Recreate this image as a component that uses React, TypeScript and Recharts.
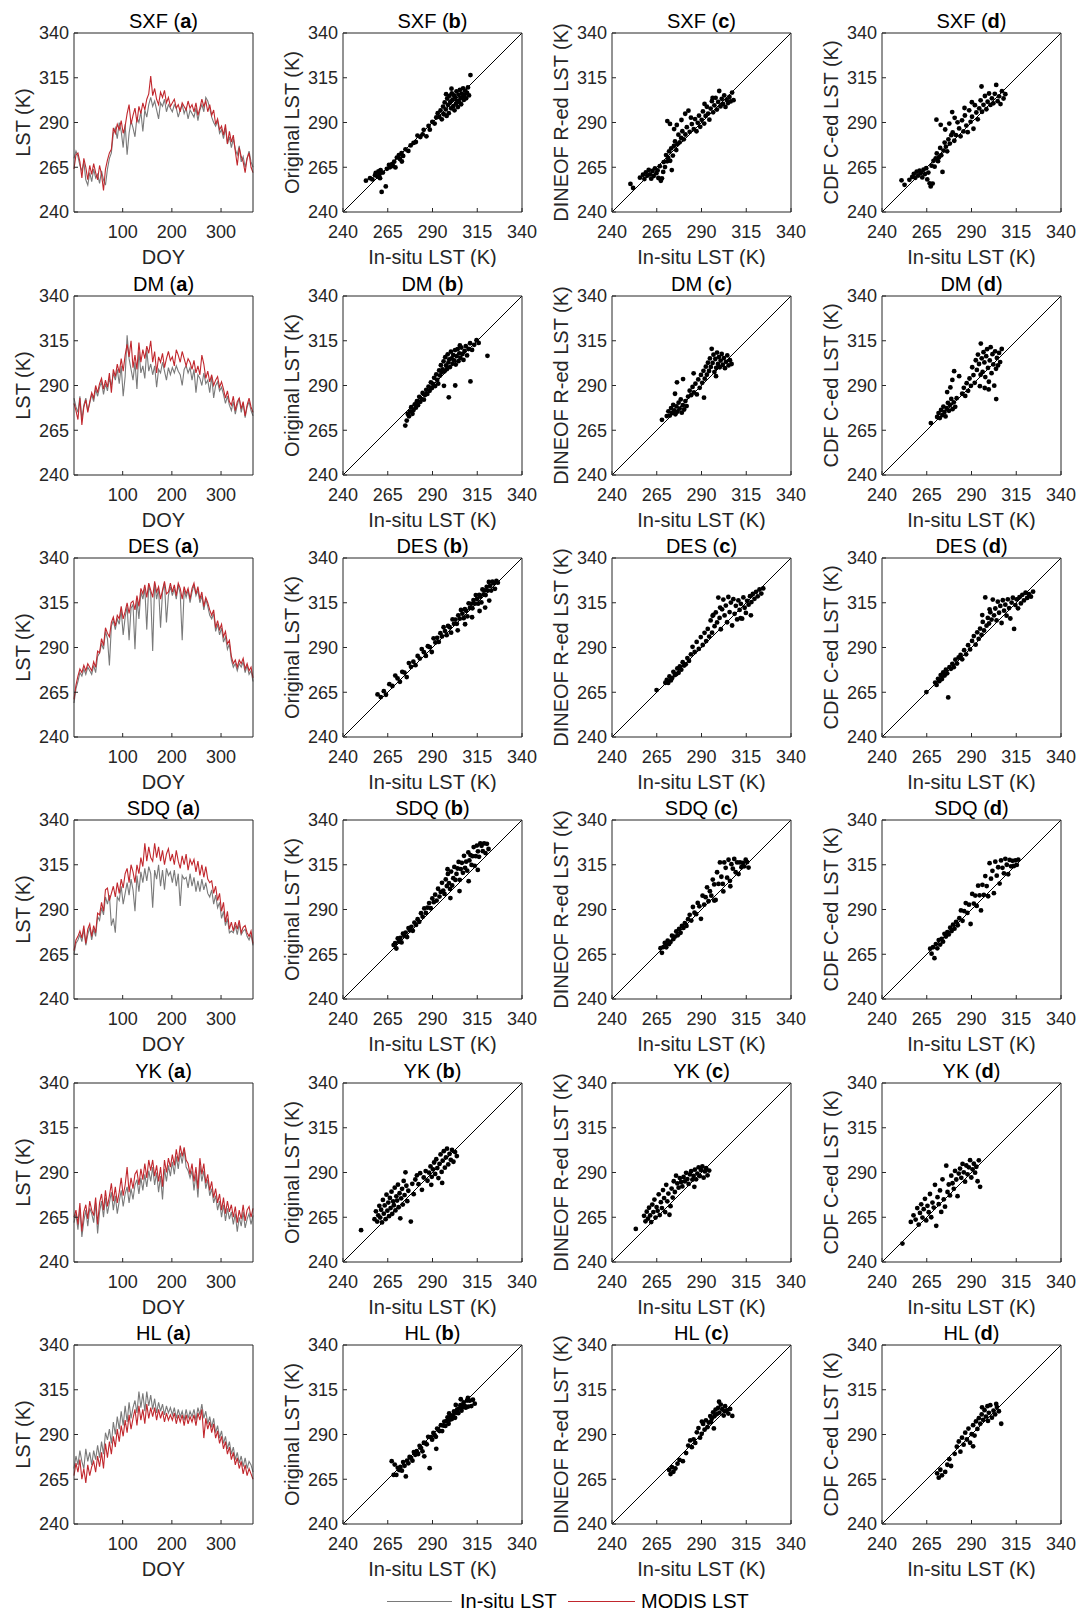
import {
  LineChart,
  Line,
  ScatterChart,
  Scatter,
  XAxis,
  YAxis,
  ReferenceLine,
} from "recharts";

// day of year, sampled every 4 days
const DOY = [
  1, 5, 9, 13, 17, 21, 25, 29, 33, 37, 41, 45, 49, 53, 57, 61, 65, 69, 73, 77,
  81, 85, 89, 93, 97, 101, 105, 109, 113, 117, 121, 125, 129, 133, 137, 141,
  145, 149, 153, 157, 161, 165, 169, 173, 177, 181, 185, 189, 193, 197, 201,
  205, 209, 213, 217, 221, 225, 229, 233, 237, 241, 245, 249, 253, 257, 261,
  265, 269, 273, 277, 281, 285, 289, 293, 297, 301, 305, 309, 313, 317, 321,
  325, 329, 333, 337, 341, 345, 349, 353, 357, 361, 365,
];
const DOY_TICKS = [100, 200, 300];
const LST_TICKS = [240, 265, 290, 315, 340];
const ONE_TO_ONE = [240, 340];

const SITES = ["SXF", "DM", "DES", "SDQ", "YK", "HL"];
const LETTERS = ["a", "b", "c", "d"];
const Y_LABELS = ["LST (K)", "Original LST (K)", "DINEOF R-ed LST (K)", "CDF C-ed LST (K)"];

// ---- time series (in-situ vs MODIS) ----
const SXF_INSITU = [
  270, 274, 271, 266, 263, 268, 258, 255, 262, 257, 264, 259, 261, 256, 263, 258, 255, 264, 270, 273,
  284, 287, 281, 290, 285, 276, 289, 272, 284, 291, 287, 282, 293, 290, 296, 285, 297, 293, 300, 304,
  299, 302, 297, 292, 301, 299, 303, 296, 300, 298, 296, 300, 298, 293, 297, 300, 295, 298, 292, 297,
  295, 293, 298, 291, 297, 300, 296, 304, 302, 298, 293, 290, 288, 291, 284, 286, 281, 287, 278, 282,
  276, 281, 275, 272, 277, 268, 271, 265, 270, 274, 268, 265,
];
const SXF_MODIS = [
  264, 272, 273, 268, 259, 270, 265, 258, 266, 261, 267, 262, 258, 266, 261, 252, 264, 269, 273, 275,
  287, 284, 289, 286, 291, 284, 288, 295, 300, 289, 294, 298, 290, 299, 295, 301, 297, 303, 306, 316,
  305, 309, 303, 300, 307, 304, 308, 301, 304, 299, 301, 303, 298, 300, 296, 301, 299, 297, 302, 298,
  300, 296, 301, 294, 298, 303, 299, 302, 296, 300, 294, 297, 289, 292, 286, 288, 283, 289, 278, 285,
  279, 283, 274, 266, 276, 271, 268, 262, 270, 273, 265, 262,
];
const DM_INSITU = [
  283, 278, 275, 284, 271, 279, 283, 276, 280, 285, 281, 288, 284, 289, 292, 285, 291, 287, 294, 290,
  297, 293, 299, 291, 301, 284, 295, 318, 305, 299, 293, 303, 288, 309, 297, 301, 294, 310, 298, 302,
  296, 301, 289, 299, 297, 303, 298, 293, 300, 296, 300, 297, 301, 298, 296, 290, 299, 301, 297, 300,
  293, 299, 286, 296, 294, 290, 297, 291, 293, 286, 295, 283, 290, 292, 287, 289, 285, 280, 284, 279,
  276, 281, 274, 279, 283, 275, 280, 272, 278, 281, 276, 273,
];
const DM_MODIS = [
  280, 276, 271, 283, 268, 278, 282, 275, 281, 286, 283, 290, 286, 291, 294, 288, 293, 289, 297, 286,
  299, 295, 302, 297, 305, 298, 307, 313, 306, 315, 300, 307, 299, 314, 303, 310, 305, 312, 308, 315,
  303, 309, 297, 306, 303, 308, 300, 305, 309, 304, 306, 301, 310, 307, 303, 309, 305, 301, 305, 303,
  299, 304, 297, 301, 296, 307, 302, 294, 298, 292, 296, 290, 293, 295, 289, 292, 288, 283, 287, 281,
  279, 284, 276, 281, 283, 277, 281, 273, 279, 283, 278, 275,
];
const DES_INSITU = [
  259, 267, 271, 276, 274, 278, 275, 279, 277, 275, 280, 276, 285, 287, 292, 289, 299, 295, 280, 302,
  305, 300, 306, 303, 311, 297, 307, 313, 294, 312, 314, 289, 317, 306, 321, 317, 323, 300, 325, 320,
  288, 326, 317, 323, 301, 321, 326, 304, 319, 324, 319, 323, 317, 325, 320, 294, 322, 318, 322, 315,
  321, 325, 319, 322, 315, 319, 311, 317, 313, 308, 306, 309, 299, 303, 297, 301, 293, 296, 289, 292,
  283, 279, 281, 277, 281, 279, 282, 276, 280, 275, 277, 271,
];
const DES_MODIS = [
  261, 269, 274, 278, 276, 280, 277, 281, 279, 277, 282, 279, 288, 287, 295, 291, 301, 298, 296, 304,
  307, 302, 308, 306, 313, 306, 310, 315, 309, 315, 316, 311, 319, 313, 323, 320, 325, 318, 326, 322,
  318, 327, 321, 324, 317, 322, 327, 320, 321, 326, 321, 325, 319, 326, 323, 317, 324, 320, 323, 317,
  323, 326, 320, 324, 317, 321, 313, 318, 315, 311, 308, 311, 301, 305, 300, 303, 296, 299, 292, 294,
  285, 281, 283, 279, 283, 281, 284, 278, 281, 277, 279, 273,
];
const SDQ_INSITU = [
  265, 271, 273, 276, 272, 279, 270, 276, 280, 273, 279, 275, 286, 284, 291, 287, 297, 293, 298, 281,
  285, 277, 297, 295, 303, 293, 299, 305, 298, 307, 301, 289, 309, 300, 311, 305, 313, 306, 314, 310,
  291, 312, 307, 315, 303, 312, 301, 313, 309, 311, 305, 312, 303, 310, 292, 309, 307, 308, 302, 310,
  303, 308, 300, 306, 300, 307, 301, 305, 299, 297, 301, 293, 298, 291, 294, 285, 289, 281, 285, 277,
  278, 277, 281, 276, 282, 276, 278, 279, 275, 273, 276, 270,
];
const SDQ_MODIS = [
  267, 273, 275, 278, 274, 281, 271, 279, 282, 275, 281, 277, 288, 287, 294, 289, 301, 302, 295, 299,
  303, 297, 305, 299, 307, 302, 310, 313, 305, 315, 311, 305, 315, 310, 319, 314, 327, 317, 325, 319,
  317, 327, 319, 325, 317, 323, 315, 321, 324, 317, 321, 315, 323, 317, 313, 320, 315, 321, 312, 318,
  315, 318, 311, 317, 309, 315, 308, 314, 307, 305, 306, 299, 303, 295, 299, 289, 294, 283, 289, 279,
  283, 278, 283, 279, 284, 277, 280, 281, 277, 275, 278, 271,
];
const YK_INSITU = [
  262, 267, 258, 270, 254, 263, 269, 260, 270, 267, 262, 273, 256, 268, 274, 265, 276, 267, 273, 279,
  269, 277, 267, 274, 280, 271, 278, 282, 273, 281, 275, 283, 286, 278, 287, 280, 289, 282, 291, 285,
  293, 283, 290, 279, 288, 275, 292, 285, 294, 288, 296, 289, 299, 292, 301, 295, 303, 293, 291, 287,
  291, 280, 289, 276, 294, 285, 291, 281, 286, 277, 281, 273, 277, 269, 274, 265, 272, 263, 270, 264,
  268, 261, 267, 257, 265, 260, 268, 259, 264, 267, 261, 266,
];
const YK_MODIS = [
  265, 269, 261, 273, 257, 268, 272, 264, 274, 269, 266, 276, 261, 273, 278, 269, 280, 271, 277, 284,
  274, 282, 273, 279, 287, 277, 283, 293, 279, 287, 281, 289, 291, 283, 292, 286, 295, 287, 297, 291,
  297, 288, 294, 285, 293, 282, 297, 290, 298, 293, 300, 294, 303, 296, 305, 299, 304, 297, 295, 289,
  295, 285, 293, 281, 298, 289, 295, 284, 289, 280, 285, 276, 281, 273, 278, 269, 276, 267, 274, 268,
  272, 265, 271, 262, 269, 264, 272, 263, 269, 271, 265, 270,
];
const HL_INSITU = [
  271, 278, 273, 281, 275, 271, 282, 275, 280, 273, 281, 276, 284, 277, 286, 279, 291, 287, 293, 285,
  297, 290, 300, 293, 303, 295, 306, 297, 308, 299, 305, 309, 302, 314, 305, 313, 303, 314, 306, 312,
  304, 310, 302, 308, 303, 307, 301, 306, 302, 305, 301, 305, 299, 304, 300, 303, 298, 304, 299, 303,
  300, 304, 298, 305, 301, 307, 299, 303, 296, 300, 294, 299, 291, 295, 288, 292, 285, 289, 282, 286,
  279, 283, 276, 280, 274, 278, 272, 277, 271, 275, 273, 269,
];
const HL_MODIS = [
  267, 274, 269, 276, 265, 271, 263, 273, 267, 272, 275, 269, 278, 272, 280, 271, 285, 277, 286, 279,
  289, 283, 293, 286, 295, 289, 298, 291, 301, 293, 299, 304, 295, 306, 298, 304, 296, 307, 299, 305,
  300, 305, 298, 304, 299, 303, 297, 302, 298, 301, 298, 302, 296, 301, 297, 301, 295, 301, 296, 300,
  297, 301, 295, 302, 298, 304, 288, 299, 293, 297, 291, 296, 288, 292, 285, 289, 282, 286, 279, 283,
  276, 280, 273, 277, 271, 275, 268, 273, 267, 271, 268, 265,
];

// ---- scatter: [in-situ, satellite] ----
const SXF_B = [
  [252.8, 257.5], [255.1, 258.9], [256.4, 258.2], [257.9, 260.6], [258.3, 261.9], [259.2, 259.8], [259.8, 262.7], [260.4, 261.1],
  [261.0, 263.4], [260.7, 258.9], [261.6, 251.2], [262.3, 262.0], [263.9, 254.3], [264.5, 264.1], [265.7, 266.3], [266.2, 265.0],
  [267.4, 266.8], [267.9, 265.7], [268.6, 268.1], [269.3, 264.9], [270.1, 270.4], [271.2, 271.8], [271.8, 269.6], [272.7, 272.9],
  [273.6, 271.3], [274.9, 275.0], [272.9, 268.2], [276.5, 274.1], [277.8, 277.2], [279.4, 278.6], [280.7, 279.1], [281.6, 282.7],
  [283.2, 281.9], [284.5, 283.4], [285.1, 285.9], [286.6, 282.3], [287.8, 288.1], [288.5, 286.0], [289.9, 290.3], [291.2, 289.4],
  [292.1, 292.8], [292.9, 295.2], [293.8, 293.1], [294.5, 296.7], [295.2, 291.8], [295.9, 298.9], [296.3, 294.6], [296.8, 301.2],
  [297.4, 297.3], [297.9, 293.7], [298.2, 303.4], [298.7, 299.8], [299.1, 295.2], [299.5, 304.9], [299.9, 301.6], [300.4, 297.9],
  [300.8, 306.3], [301.2, 302.8], [301.6, 299.1], [302.0, 305.2], [302.3, 296.8], [302.7, 303.9], [303.1, 300.5], [303.4, 307.4],
  [303.8, 302.1], [304.2, 298.6], [304.5, 305.6], [304.9, 301.4], [305.3, 308.2], [305.6, 303.7], [306.0, 300.2], [306.4, 306.1],
  [306.7, 304.0], [307.1, 309.1], [307.5, 302.6], [307.9, 305.3], [308.3, 307.7], [308.8, 303.5], [309.3, 306.6], [309.8, 309.6],
  [310.4, 305.1], [311.2, 316.5], [300.6, 308.9], [297.6, 305.8],
];
const SXF_C = [
  [250.3, 255.7], [251.8, 253.4], [255.6, 259.2], [257.3, 260.8], [258.1, 258.4], [258.9, 262.1], [259.7, 260.3], [260.5, 263.5],
  [261.2, 261.0], [261.9, 258.6], [262.6, 262.9], [263.3, 260.1], [264.0, 264.4], [264.8, 261.7], [265.5, 263.2], [265.9, 259.0],
  [266.7, 265.6], [267.3, 257.4], [267.9, 258.8], [268.6, 262.4], [268.9, 267.9], [269.6, 265.1], [270.2, 271.8], [270.8, 268.3],
  [271.4, 270.2], [271.9, 273.9], [272.5, 268.6], [273.1, 275.6], [273.4, 263.4], [274.0, 271.5], [274.6, 276.9], [275.2, 279.4],
  [275.9, 274.6], [276.5, 277.8], [277.1, 283.2], [277.8, 278.9], [278.6, 281.4], [279.3, 285.1], [280.1, 280.6], [281.0, 283.3],
  [281.8, 287.4], [270.9, 290.8], [272.4, 289.2], [274.7, 286.3], [276.2, 288.6], [278.8, 291.4], [280.9, 294.9], [282.7, 296.6],
  [284.1, 292.7], [283.4, 284.8], [284.6, 289.1], [285.7, 286.3], [286.4, 291.9], [287.2, 285.1], [287.9, 289.8], [288.6, 293.8],
  [289.3, 287.6], [290.1, 291.5], [290.8, 296.2], [291.5, 289.4], [292.3, 293.7], [293.0, 298.8], [293.7, 295.0], [294.4, 291.6],
  [295.1, 297.8], [295.8, 301.9], [296.5, 295.7], [297.2, 299.6], [297.9, 303.8], [298.6, 297.2], [299.3, 301.5], [299.9, 307.6],
  [300.6, 299.0], [301.3, 303.2], [302.0, 300.4], [302.7, 305.1], [303.4, 298.7], [304.1, 302.6], [304.8, 300.9], [305.6, 304.3],
  [306.3, 301.8], [307.1, 306.7], [307.9, 302.5], [296.2, 303.7], [291.7, 300.4],
];
const SXF_D = [
  [250.9, 257.7], [252.6, 255.2], [255.3, 258.0], [256.9, 259.6], [257.8, 261.3], [258.6, 259.1], [259.4, 262.6], [260.2, 260.4],
  [261.0, 263.1], [261.7, 261.8], [262.5, 259.3], [263.2, 263.6], [264.0, 261.2], [264.7, 264.5], [265.3, 258.2], [265.9, 262.0],
  [266.6, 256.0], [267.2, 254.3], [267.7, 265.9], [268.3, 255.9], [268.8, 268.6], [269.4, 265.3], [270.0, 270.0], [270.6, 272.7],
  [271.3, 268.4], [271.8, 270.5], [272.5, 275.8], [273.1, 271.7], [273.8, 262.4], [274.4, 274.3], [275.0, 278.8], [275.7, 276.5],
  [276.4, 273.9], [277.1, 280.6], [277.9, 278.2], [278.7, 282.9], [279.5, 284.4], [280.4, 279.8], [281.3, 283.0], [270.4, 291.6],
  [272.8, 288.7], [275.3, 286.1], [277.6, 289.4], [279.2, 295.8], [280.6, 292.6], [282.2, 290.1], [283.1, 286.7], [283.9, 282.3],
  [284.7, 291.2], [285.5, 285.0], [286.3, 293.9], [287.1, 288.3], [287.9, 284.6], [288.7, 296.8], [289.5, 290.4], [290.3, 293.2],
  [291.1, 286.5], [291.9, 299.7], [292.7, 295.6], [293.5, 291.8], [294.3, 297.9], [295.1, 302.4], [295.9, 296.0], [296.7, 299.9],
  [297.5, 304.8], [298.3, 297.4], [299.0, 301.6], [299.8, 306.2], [300.6, 299.8], [301.4, 303.5], [302.2, 300.7], [303.0, 306.0],
  [303.8, 311.0], [304.6, 301.9], [305.4, 304.6], [306.2, 300.3], [307.0, 307.5], [307.9, 303.4], [308.9, 305.8], [295.6, 310.1],
  [290.2, 301.3], [286.1, 298.1],
];
const DM_B = [
  [274.8, 267.6], [275.6, 270.4], [276.2, 274.1], [276.9, 272.8], [277.5, 275.6], [278.1, 277.9], [278.8, 274.2], [279.4, 276.3],
  [280.1, 279.5], [280.7, 277.6], [281.3, 281.2], [281.9, 279.0], [282.6, 283.7], [283.2, 280.9], [283.9, 282.4], [284.5, 285.8],
  [285.2, 282.1], [285.8, 284.7], [286.5, 287.6], [287.1, 285.3], [287.8, 289.4], [288.4, 287.0], [289.1, 291.8], [289.7, 288.6],
  [290.3, 290.9], [290.9, 294.3], [291.5, 289.7], [292.1, 296.2], [292.6, 293.1], [293.2, 291.0], [293.7, 298.4], [294.2, 295.6],
  [294.7, 301.3], [295.2, 297.4], [295.7, 299.0], [296.2, 303.5], [296.7, 297.9], [297.1, 305.8], [297.6, 301.2], [298.0, 299.1],
  [298.5, 307.4], [298.9, 302.9], [299.4, 304.6], [299.8, 300.3], [300.3, 308.9], [300.7, 305.1], [301.2, 302.2], [301.6, 307.0],
  [302.1, 304.0], [302.6, 309.8], [303.0, 301.7], [303.5, 306.4], [304.0, 310.3], [304.5, 303.6], [305.0, 308.0], [305.6, 305.4],
  [306.1, 311.2], [306.7, 307.6], [307.3, 304.3], [307.9, 309.3], [308.6, 312.0], [309.3, 306.8], [310.1, 310.4], [311.0, 313.6],
  [312.1, 309.9], [313.3, 312.7], [314.6, 315.3], [315.8, 313.8], [320.7, 306.6], [311.2, 292.3], [302.7, 290.0], [299.1, 283.4],
  [296.4, 289.8], [305.3, 312.4],
];
const DM_C = [
  [267.9, 270.8], [270.6, 272.9], [271.5, 275.6], [272.3, 273.2], [273.0, 277.4], [273.6, 274.7], [274.2, 279.2], [274.8, 276.1],
  [275.4, 273.9], [276.0, 278.3], [276.6, 275.4], [277.2, 280.4], [277.8, 277.1], [278.4, 282.2], [279.0, 274.8], [279.6, 279.0],
  [280.3, 276.6], [281.0, 281.3], [281.7, 278.5], [282.5, 283.8], [276.3, 291.8], [275.2, 285.4], [279.7, 293.6], [285.6, 296.8],
  [283.4, 287.1], [284.2, 284.6], [285.0, 289.2], [285.8, 286.1], [286.6, 291.0], [287.4, 285.0], [288.2, 293.4], [289.0, 288.7],
  [289.7, 295.9], [290.4, 291.5], [291.1, 298.2], [291.8, 293.8], [292.4, 300.5], [293.0, 296.0], [293.6, 302.7], [294.2, 298.1],
  [294.7, 305.1], [295.2, 300.4], [295.7, 310.5], [296.2, 302.6], [296.7, 307.2], [297.2, 297.5], [297.7, 304.8], [298.2, 299.9],
  [298.7, 308.4], [299.2, 302.0], [299.7, 305.9], [300.2, 300.2], [300.7, 303.9], [301.3, 307.6], [301.9, 301.6], [302.5, 305.3],
  [303.1, 299.7], [303.7, 303.2], [304.4, 306.8], [305.1, 301.2], [305.9, 304.1], [306.8, 302.0], [298.1, 295.2], [291.4, 283.2],
];
const DM_D = [
  [267.3, 269.0], [270.8, 272.4], [271.6, 274.6], [272.3, 271.8], [273.0, 276.3], [273.7, 273.5], [274.3, 278.2], [274.9, 275.2],
  [275.5, 272.7], [276.1, 277.4], [276.8, 280.3], [277.4, 275.9], [278.0, 279.1], [278.7, 282.5], [279.4, 276.8], [280.1, 280.6],
  [280.9, 278.1], [281.7, 282.9], [276.4, 286.3], [278.2, 288.9], [280.3, 298.0], [283.1, 295.2], [279.3, 293.1], [284.8, 285.4],
  [285.7, 288.7], [286.5, 284.2], [287.3, 291.3], [288.1, 287.0], [288.9, 293.9], [289.7, 289.8], [290.4, 300.2], [291.1, 295.8],
  [291.8, 291.5], [292.4, 304.1], [293.0, 298.7], [293.6, 307.3], [294.2, 302.0], [294.7, 289.6], [295.2, 313.4], [295.7, 305.2],
  [296.2, 297.6], [296.7, 308.6], [297.2, 302.9], [297.7, 294.7], [298.2, 306.4], [298.7, 310.3], [299.2, 299.8], [299.7, 292.1],
  [300.2, 304.0], [300.7, 311.4], [301.2, 296.9], [301.7, 307.5], [302.2, 301.8], [302.7, 289.9], [303.2, 309.1], [303.7, 299.3],
  [304.2, 305.4], [303.8, 282.4], [304.8, 301.2], [305.4, 308.2], [306.0, 303.1], [306.9, 310.4], [297.4, 288.6], [299.6, 287.8],
  [295.1, 296.0],
];
const DES_B = [
  [259.3, 263.8], [261.1, 262.3], [262.8, 265.6], [264.0, 263.6], [265.9, 269.5], [267.6, 268.5], [269.2, 274.3], [270.5, 272.7],
  [271.8, 270.8], [273.1, 276.4], [274.3, 276.0], [275.6, 273.5], [276.8, 281.3], [278.0, 279.2], [279.3, 282.1], [280.5, 280.1],
  [281.7, 285.3], [282.9, 283.8], [284.0, 289.1], [285.2, 287.4], [286.3, 285.3], [287.4, 290.7], [288.5, 290.2], [289.6, 287.5],
  [290.6, 295.1], [291.6, 292.8], [292.6, 295.4], [293.5, 293.1], [294.4, 298.0], [295.3, 296.2], [296.2, 301.3], [297.0, 299.2],
  [297.9, 296.9], [298.7, 302.0], [299.6, 301.3], [300.4, 298.3], [301.2, 305.7], [302.0, 303.2], [302.8, 305.6], [303.6, 303.2],
  [304.4, 308.0], [305.2, 306.1], [305.9, 311.0], [306.7, 308.9], [307.4, 306.4], [308.1, 311.4], [308.8, 310.5], [309.5, 307.4],
  [310.2, 314.7], [310.9, 312.1], [311.6, 314.4], [312.3, 311.9], [312.9, 316.5], [313.6, 314.5], [314.2, 319.3], [314.9, 317.1],
  [315.5, 314.5], [316.1, 319.4], [316.7, 318.4], [317.3, 315.2], [317.9, 322.4], [318.5, 319.7], [319.1, 321.9], [319.7, 319.3],
  [320.3, 323.9], [320.9, 321.8], [321.5, 326.6], [322.2, 324.4], [322.8, 321.8], [323.5, 326.8], [324.2, 325.9], [324.9, 322.8],
  [325.7, 327.2], [326.5, 326.2], [316.3, 310.4], [312.1, 306.9], [308.2, 303.0], [319.4, 312.3], [321.7, 316.2], [304.1, 299.6],
];
const DES_C = [
  [264.9, 266.2], [269.8, 270.3], [270.6, 271.9], [271.4, 270.2], [272.1, 273.8], [272.9, 271.6], [273.6, 272.9], [274.3, 276.4],
  [275.1, 274.6], [275.8, 275.1], [276.5, 278.3], [277.2, 275.9], [277.9, 279.4], [278.7, 277.6], [279.5, 281.8], [280.3, 279.9],
  [281.2, 280.6], [282.1, 284.1], [283.0, 282.5], [284.1, 286.2], [285.0, 290.4], [286.2, 287.5], [287.3, 293.1], [288.5, 289.2],
  [289.6, 295.8], [290.7, 291.4], [291.7, 298.2], [292.6, 293.6], [293.5, 300.4], [294.3, 296.1], [295.1, 305.1], [295.9, 298.3],
  [296.6, 308.2], [297.3, 301.9], [298.0, 309.6], [298.7, 304.0], [299.4, 317.9], [300.1, 306.5], [300.8, 300.2], [301.5, 311.3],
  [302.2, 316.8], [302.9, 307.9], [303.6, 313.4], [304.3, 304.1], [305.0, 318.2], [305.7, 309.8], [306.4, 315.1], [307.1, 302.3],
  [307.8, 317.0], [308.5, 308.8], [309.2, 313.3], [309.9, 305.7], [310.6, 316.3], [311.3, 311.0], [312.0, 314.4], [312.7, 306.1],
  [313.4, 318.0], [314.1, 312.2], [314.8, 309.3], [315.5, 316.1], [316.3, 313.9], [317.1, 318.7], [317.9, 315.4], [318.7, 319.9],
  [319.6, 317.2], [320.5, 321.1], [321.4, 318.6], [322.4, 322.4], [323.4, 320.1], [324.5, 323.0], [317.6, 308.0], [311.8, 306.4],
  [296.2, 307.7], [300.4, 312.3],
];
const DES_D = [
  [264.8, 265.1], [269.7, 270.4], [270.5, 269.1], [271.3, 272.5], [272.0, 271.2], [272.8, 274.6], [273.5, 272.4], [274.2, 276.1],
  [275.0, 274.3], [275.7, 277.6], [276.4, 275.6], [277.0, 262.1], [277.7, 279.0], [278.5, 278.1], [279.3, 280.9], [280.1, 279.0],
  [281.0, 283.2], [281.9, 281.0], [282.8, 284.4], [283.9, 285.8], [284.8, 283.4], [285.9, 288.5], [287.0, 286.2], [288.1, 291.3],
  [289.2, 288.9], [290.3, 293.7], [291.3, 296.4], [292.3, 291.6], [293.2, 298.5], [294.0, 294.8], [294.8, 300.6], [295.6, 297.1],
  [296.3, 304.3], [297.0, 299.5], [297.7, 318.0], [298.4, 302.2], [299.1, 306.5], [299.8, 303.4], [300.5, 309.7], [301.2, 305.6],
  [301.9, 316.8], [302.6, 308.0], [303.3, 311.8], [304.0, 305.1], [304.7, 315.6], [305.4, 309.4], [306.1, 313.2], [306.8, 303.7],
  [307.5, 316.4], [308.2, 310.6], [308.9, 313.9], [309.6, 307.8], [310.3, 316.9], [311.0, 312.0], [311.7, 306.2], [312.4, 315.1],
  [313.1, 317.8], [313.8, 300.4], [314.5, 313.7], [315.2, 316.9], [316.0, 311.9], [316.8, 318.1], [317.6, 314.6], [318.4, 319.4],
  [319.3, 316.3], [320.2, 320.6], [321.1, 317.7], [322.1, 319.8], [323.2, 318.4], [324.4, 321.2], [300.1, 311.3], [296.0, 308.1],
];
const SDQ_B = [
  [268.3, 270.1], [269.1, 271.2], [269.8, 268.2], [270.6, 273.8], [271.3, 272.0], [272.0, 274.1], [272.7, 271.6], [273.5, 276.5],
  [274.2, 275.3], [275.0, 277.1], [275.8, 274.6], [276.6, 279.6], [277.4, 278.4], [278.2, 280.3], [279.0, 278.1], [279.9, 282.7],
  [280.8, 281.4], [281.7, 284.6], [282.6, 283.1], [283.6, 287.9], [284.5, 286.0], [285.4, 290.6], [286.3, 288.1], [287.2, 291.0],
  [288.1, 293.6], [289.0, 290.7], [289.9, 296.2], [290.7, 294.1], [291.5, 298.3], [292.3, 295.0], [293.1, 301.6], [293.9, 297.2],
  [294.6, 299.8], [295.3, 304.9], [296.0, 300.6], [296.7, 298.7], [297.4, 306.8], [298.0, 303.1], [298.6, 309.9], [299.2, 304.7],
  [299.8, 301.5], [300.4, 311.2], [301.0, 303.4], [301.6, 307.5], [302.2, 313.8], [302.8, 306.5], [303.4, 309.9], [304.0, 312.9],
  [304.6, 316.6], [305.2, 306.6], [305.8, 312.6], [306.4, 316.1], [307.0, 310.5], [307.6, 320.0], [308.2, 313.3], [308.8, 316.7],
  [309.4, 311.7], [310.0, 321.9], [310.6, 317.4], [311.2, 320.4], [311.8, 314.9], [312.4, 319.8], [313.0, 324.9], [313.6, 314.4],
  [314.2, 319.8], [314.8, 325.7], [315.4, 322.5], [316.0, 319.4], [316.7, 326.9], [317.4, 325.6], [318.1, 322.6], [318.8, 326.9],
  [319.6, 321.5], [320.4, 326.7], [321.3, 323.8], [310.2, 305.8], [305.1, 300.3], [300.0, 296.4], [315.3, 312.1], [298.4, 312.5],
];
const SDQ_C = [
  [267.1, 268.4], [267.9, 265.8], [268.7, 269.0], [269.5, 271.3], [270.3, 268.9], [271.1, 272.6], [271.9, 270.7], [272.7, 271.9],
  [273.5, 275.4], [274.3, 273.5], [275.1, 274.8], [275.9, 277.7], [276.7, 275.6], [277.5, 279.1], [278.3, 277.0], [279.1, 280.9],
  [279.9, 279.7], [280.7, 282.4], [281.6, 280.8], [282.5, 284.6], [283.4, 287.0], [284.3, 283.8], [285.2, 291.4], [286.1, 288.2],
  [287.0, 287.4], [287.9, 293.7], [288.8, 291.8], [289.7, 284.8], [290.6, 297.7], [291.5, 292.7], [292.3, 296.9], [293.1, 302.4],
  [293.9, 294.6], [294.7, 300.2], [295.5, 297.7], [296.3, 306.7], [297.1, 304.0], [297.9, 295.3], [298.7, 310.8], [299.5, 304.3],
  [300.3, 316.3], [301.1, 308.3], [301.9, 304.3], [302.7, 316.3], [303.5, 313.3], [304.3, 307.8], [305.1, 317.8], [305.9, 306.0],
  [306.7, 315.3], [307.5, 312.8], [308.3, 318.2], [309.1, 310.8], [309.9, 316.3], [310.7, 309.8], [311.5, 316.3], [312.3, 313.6],
  [313.1, 316.0], [313.9, 314.1], [314.7, 317.8], [315.5, 316.5], [316.3, 313.4], [297.1, 295.0], [302.2, 300.1], [306.1, 303.0],
];
const SDQ_D = [
  [266.9, 268.1], [267.7, 265.3], [268.5, 268.9], [269.3, 262.8], [270.1, 270.7], [270.9, 268.3], [271.7, 272.9], [272.5, 270.4],
  [273.3, 273.6], [274.1, 272.0], [274.9, 276.4], [275.7, 274.9], [276.5, 277.3], [277.3, 276.1], [278.1, 279.8], [278.9, 278.0],
  [279.7, 281.5], [280.5, 279.3], [281.4, 283.1], [282.3, 281.2], [283.2, 285.1], [284.1, 289.5], [285.0, 283.7], [285.9, 289.1],
  [286.8, 293.6], [287.7, 288.1], [288.6, 292.7], [289.5, 281.9], [290.4, 298.7], [291.3, 293.3], [292.1, 297.8], [292.9, 292.0],
  [293.7, 303.3], [294.5, 297.9], [295.3, 289.5], [296.1, 303.8], [296.9, 298.1], [297.7, 308.7], [298.5, 303.1], [299.3, 297.4],
  [300.1, 315.9], [300.9, 307.2], [301.7, 311.6], [302.5, 299.1], [303.3, 316.7], [304.1, 308.9], [304.9, 313.6], [305.7, 304.5],
  [306.5, 317.4], [307.3, 313.3], [308.1, 310.2], [308.9, 318.3], [309.7, 315.0], [310.5, 309.7], [311.3, 317.7], [312.1, 314.1],
  [312.9, 317.2], [313.7, 314.3], [314.5, 317.5], [315.3, 314.9], [316.1, 317.9],
];
const YK_B = [
  [250.1, 257.8], [257.6, 263.9], [258.4, 268.3], [259.1, 262.6], [259.7, 266.1], [260.3, 271.4], [260.8, 264.8], [261.3, 269.2],
  [261.8, 262.1], [262.3, 274.7], [262.8, 267.0], [263.3, 271.6], [263.8, 263.9], [264.3, 277.6], [264.8, 268.7], [265.3, 273.2],
  [265.7, 265.6], [266.2, 275.8], [266.6, 270.1], [267.1, 279.3], [267.5, 266.9], [268.0, 273.9], [268.4, 271.7], [268.9, 281.5],
  [269.3, 268.8], [269.8, 276.7], [270.2, 274.3], [270.7, 283.2], [271.1, 270.6], [271.6, 278.4], [272.0, 264.4], [272.5, 275.6],
  [273.0, 280.9], [273.4, 272.1], [273.9, 285.3], [274.4, 277.4], [274.9, 290.1], [275.4, 282.6], [275.9, 274.0], [276.5, 279.8],
  [277.9, 262.6], [278.7, 283.7], [279.5, 277.9], [280.4, 286.1], [281.3, 288.4], [282.2, 283.5], [283.1, 289.6], [284.1, 280.3],
  [285.1, 287.2], [286.2, 290.8], [287.2, 285.4], [288.1, 289.9], [288.9, 293.4], [289.6, 287.6], [290.3, 291.8], [290.9, 295.6],
  [291.5, 289.2], [292.1, 297.4], [292.7, 292.5], [293.3, 286.9], [293.9, 294.8], [294.5, 300.1], [295.1, 290.3], [295.7, 296.6],
  [296.3, 301.9], [296.9, 292.7], [297.5, 298.4], [298.1, 303.3], [298.8, 294.5], [299.5, 300.4], [300.2, 297.1], [300.9, 302.6],
  [301.7, 296.0], [302.6, 301.4], [303.6, 299.2], [295.4, 284.2], [289.3, 283.1],
];
const YK_C = [
  [253.3, 258.5], [257.9, 265.8], [258.7, 262.7], [259.4, 268.1], [260.1, 264.2], [260.7, 270.3], [261.3, 266.0], [261.9, 262.3],
  [262.5, 272.1], [263.1, 267.9], [263.7, 274.9], [264.3, 264.8], [264.9, 270.7], [265.5, 268.6], [266.1, 277.8], [266.7, 266.2],
  [267.3, 273.4], [267.9, 270.1], [268.5, 280.2], [269.1, 275.7], [269.7, 267.9], [270.3, 283.1], [270.9, 273.9], [271.5, 278.2],
  [272.1, 266.4], [272.7, 271.2], [273.3, 281.0], [273.9, 276.0], [274.5, 285.1], [275.1, 279.1], [275.8, 288.2], [276.5, 283.9],
  [277.2, 281.5], [277.9, 286.9], [278.6, 284.7], [279.3, 282.2], [280.0, 287.5], [280.7, 285.0], [281.4, 289.8], [282.1, 286.3],
  [282.8, 283.6], [283.5, 288.9], [284.2, 290.7], [284.9, 286.0], [285.6, 288.1], [286.3, 291.6], [287.0, 286.2], [287.7, 289.4],
  [288.4, 292.9], [289.1, 288.0], [289.8, 291.3], [290.5, 293.4], [291.2, 287.1], [291.9, 290.6], [292.6, 292.4], [293.4, 288.4],
  [294.3, 291.1], [286.0, 282.0],
];
const YK_D = [
  [251.4, 250.3], [256.1, 262.4], [257.6, 266.1], [258.8, 263.7], [259.7, 270.1], [260.5, 260.9], [261.2, 267.4], [261.9, 272.2],
  [262.6, 264.8], [263.3, 269.5], [264.0, 275.3], [264.7, 263.2], [265.4, 271.4], [266.1, 267.8], [266.8, 278.0], [267.5, 265.0],
  [268.2, 273.2], [268.9, 270.4], [269.6, 283.1], [270.3, 260.2], [271.0, 276.2], [271.7, 272.3], [272.4, 280.0], [273.1, 268.0],
  [273.8, 286.2], [274.5, 275.0], [275.2, 270.9], [275.9, 293.8], [276.6, 279.1], [277.3, 283.3], [278.0, 277.2], [278.7, 288.2],
  [279.4, 284.0], [280.1, 280.9], [280.8, 290.9], [281.5, 286.1], [282.2, 276.8], [282.9, 289.4], [283.6, 292.2], [284.3, 287.0],
  [285.0, 294.8], [285.7, 290.1], [286.4, 284.9], [287.1, 293.9], [287.8, 289.0], [288.5, 292.9], [289.2, 296.9], [289.9, 287.2],
  [290.6, 291.8], [291.3, 294.9], [292.0, 289.9], [292.7, 293.2], [293.4, 285.1], [294.1, 296.8], [294.8, 282.0],
];
const HL_B = [
  [267.2, 275.1], [268.9, 273.2], [268.3, 267.4], [269.8, 267.4], [270.6, 271.4], [271.4, 270.1], [272.1, 271.9], [272.9, 269.8],
  [273.6, 274.6], [274.4, 272.5], [275.1, 266.6], [275.8, 275.4], [276.5, 273.9], [277.2, 277.5], [278.0, 276.9], [278.8, 275.4],
  [279.6, 280.2], [280.4, 278.7], [281.2, 280.7], [282.0, 279.1], [282.8, 283.7], [283.6, 282.4], [284.4, 280.6], [285.2, 285.4],
  [286.0, 285.1], [286.8, 284.5], [287.6, 288.7], [288.4, 271.2], [289.1, 288.5], [289.8, 287.1], [290.5, 290.9], [291.2, 289.7],
  [291.9, 288.7], [292.6, 293.3], [293.3, 292.5], [294.0, 291.9], [294.7, 295.2], [295.4, 291.9], [296.0, 295.0], [296.6, 297.2],
  [297.2, 294.8], [297.8, 297.5], [298.4, 299.6], [299.0, 296.0], [299.6, 298.2], [300.2, 300.5], [300.8, 298.6], [301.4, 300.7],
  [302.0, 302.9], [302.6, 299.3], [303.2, 302.1], [303.8, 304.0], [304.4, 301.9], [305.0, 304.6], [305.6, 306.4], [306.2, 303.3],
  [306.8, 305.2], [307.4, 307.9], [308.0, 306.0], [308.6, 305.0], [309.3, 309.0], [310.0, 305.6], [310.8, 308.9], [311.7, 305.9],
  [312.6, 309.4], [313.6, 307.2], [292.1, 282.0], [285.4, 277.8], [305.8, 309.7], [303.0, 306.5], [299.3, 301.8], [309.8, 310.4],
];
const HL_C = [
  [271.9, 270.2], [272.7, 267.9], [273.5, 271.8], [274.3, 269.2], [275.4, 271.0], [276.6, 273.7], [277.7, 275.8], [279.6, 275.1],
  [281.4, 279.6], [282.6, 283.8], [283.7, 286.7], [284.6, 282.9], [285.6, 287.3], [286.5, 285.3], [287.4, 291.2], [288.3, 293.6],
  [289.2, 288.2], [290.1, 290.4], [290.9, 295.9], [291.7, 292.7], [292.5, 297.9], [293.3, 294.1], [294.1, 296.6], [294.9, 300.3],
  [295.7, 298.8], [296.5, 302.4], [297.2, 300.2], [297.9, 303.9], [298.6, 301.4], [299.3, 304.9], [300.0, 302.2], [300.8, 306.7],
  [301.6, 304.1], [302.4, 300.6], [303.2, 305.8], [304.1, 303.4], [305.0, 301.7], [306.0, 304.3], [307.2, 300.4], [299.8, 308.3],
  [296.9, 293.4], [290.2, 297.2], [295.3, 297.0], [302.9, 303.0],
];
const HL_D = [
  [270.8, 268.3], [271.7, 265.9], [272.6, 270.3], [273.5, 267.2], [275.3, 269.1], [276.5, 273.1], [277.6, 276.2], [278.6, 272.4],
  [280.6, 279.2], [281.8, 283.2], [282.9, 286.1], [283.8, 280.4], [284.7, 288.2], [285.6, 284.3], [286.5, 291.0], [287.4, 287.2],
  [288.3, 293.3], [289.2, 285.4], [290.1, 290.2], [290.9, 295.2], [291.7, 289.4], [292.5, 297.3], [293.3, 293.1], [294.1, 299.1],
  [294.9, 296.0], [295.7, 301.2], [296.5, 298.2], [297.3, 303.6], [298.1, 300.0], [298.9, 305.8], [299.7, 302.1], [300.5, 306.4],
  [301.4, 299.4], [302.3, 303.3], [303.2, 301.2], [304.2, 305.3], [305.3, 303.0], [306.6, 296.0], [290.9, 283.4], [295.9, 305.2],
  [299.2, 297.6], [303.8, 307.1],
];

const INSITU = [SXF_INSITU, DM_INSITU, DES_INSITU, SDQ_INSITU, YK_INSITU, HL_INSITU];
const MODIS = [SXF_MODIS, DM_MODIS, DES_MODIS, SDQ_MODIS, YK_MODIS, HL_MODIS];
const SCATTER = [
  [SXF_B, SXF_C, SXF_D],
  [DM_B, DM_C, DM_D],
  [DES_B, DES_C, DES_D],
  [SDQ_B, SDQ_C, SDQ_D],
  [YK_B, YK_C, YK_D],
  [HL_B, HL_C, HL_D],
];

// layout of the plot boxes on the page
const ROW_TOPS = [33, 296, 558, 820, 1083, 1345];
const COL_LEFTS = [74, 343, 612, 882];
const PLOT = 179;
const W = 270;
const H = 267;
const MARGIN = { top: 32, right: 16, bottom: 0, left: 0 };

const AXIS = "#262626";
const GRAY = "#7a7a7a";
const RED = "#c1272d";
const FONT = "'Liberation Sans', Arial, Helvetica, sans-serif";

const tick = { fill: AXIS, fontSize: 18 };
const axisLine = { stroke: AXIS, strokeWidth: 1 };

function yLabel(text: string) {
  return {
    value: text,
    angle: -90,
    position: "insideLeft" as const,
    offset: 23,
    style: { textAnchor: "middle" },
    fill: AXIS,
    fontSize: 20,
  };
}

function xLabel(text: string) {
  return { value: text, position: "insideBottom" as const, offset: 3, fill: AXIS, fontSize: 20 };
}

function Dot(props: any) {
  return <circle cx={props.cx} cy={props.cy} r={2.4} fill="#000" />;
}

function Title({ site, letter, left, top }: { site: string; letter: string; left: number; top: number }) {
  return (
    <div
      style={{
        position: "absolute",
        left,
        top: top - 22,
        width: PLOT,
        textAlign: "center",
        fontSize: 20,
        lineHeight: "20px",
        color: "#000",
        whiteSpace: "nowrap",
      }}
    >
      {site} (<b>{letter}</b>)
    </div>
  );
}

function SeriesPanel({ row }: { row: number }) {
  const data = DOY.map((d, i) => ({ doy: d, insitu: INSITU[row][i], modis: MODIS[row][i] }));
  return (
    <LineChart width={W} height={H} data={data} margin={MARGIN}>
      <XAxis
        dataKey="doy"
        type="number"
        domain={[1, 365]}
        ticks={DOY_TICKS}
        interval={0}
        height={55}
        tick={tick}
        tickSize={-4}
        tickMargin={17}
        axisLine={axisLine}
        tickLine={axisLine}
        label={xLabel("DOY")}
      />
      <XAxis
        xAxisId="top"
        orientation="top"
        type="number"
        domain={[1, 365]}
        ticks={DOY_TICKS}
        height={1}
        tick={false}
        tickSize={-4}
        axisLine={axisLine}
        tickLine={axisLine}
      />
      <YAxis
        type="number"
        domain={[240, 340]}
        ticks={LST_TICKS}
        interval={0}
        width={74}
        tick={tick}
        tickSize={-4}
        tickMargin={9}
        axisLine={axisLine}
        tickLine={axisLine}
        label={yLabel(Y_LABELS[0])}
      />
      <YAxis
        yAxisId="right"
        orientation="right"
        type="number"
        domain={[240, 340]}
        ticks={LST_TICKS}
        width={1}
        tick={false}
        tickSize={-4}
        axisLine={axisLine}
        tickLine={axisLine}
      />
      <Line dataKey="insitu" stroke={GRAY} strokeWidth={1.1} dot={false} isAnimationActive={false} />
      <Line dataKey="modis" stroke={RED} strokeWidth={1.1} dot={false} isAnimationActive={false} />
    </LineChart>
  );
}

function ScatterPanel({ row, col }: { row: number; col: number }) {
  const pts = SCATTER[row][col].map(([x, y]) => ({ x, y }));
  return (
    <ScatterChart width={W} height={H} margin={MARGIN}>
      <XAxis
        dataKey="x"
        type="number"
        domain={[240, 340]}
        ticks={LST_TICKS}
        interval={0}
        height={55}
        tick={tick}
        tickSize={-4}
        tickMargin={17}
        axisLine={axisLine}
        tickLine={axisLine}
        label={xLabel("In-situ LST (K)")}
      />
      <XAxis
        xAxisId="top"
        orientation="top"
        type="number"
        domain={[240, 340]}
        ticks={LST_TICKS}
        height={1}
        tick={false}
        tickSize={-4}
        axisLine={axisLine}
        tickLine={axisLine}
      />
      <YAxis
        dataKey="y"
        type="number"
        domain={[240, 340]}
        ticks={LST_TICKS}
        interval={0}
        width={74}
        tick={tick}
        tickSize={-4}
        tickMargin={9}
        axisLine={axisLine}
        tickLine={axisLine}
        label={yLabel(Y_LABELS[col + 1])}
      />
      <YAxis
        yAxisId="right"
        orientation="right"
        type="number"
        domain={[240, 340]}
        ticks={LST_TICKS}
        width={1}
        tick={false}
        tickSize={-4}
        axisLine={axisLine}
        tickLine={axisLine}
      />
      <ReferenceLine
        segment={[
          { x: ONE_TO_ONE[0], y: ONE_TO_ONE[0] },
          { x: ONE_TO_ONE[1], y: ONE_TO_ONE[1] },
        ]}
        stroke="#000"
        strokeWidth={1}
      />
      <Scatter data={pts} fill="#000" shape={Dot} isAnimationActive={false} />
    </ScatterChart>
  );
}

export default function App() {
  return (
    <div
      style={{
        position: "absolute",
        left: 0,
        top: 0,
        width: 1080,
        height: 1614,
        background: "#fff",
        fontFamily: FONT,
        color: AXIS,
      }}
    >
      {SITES.map((site, row) =>
        COL_LEFTS.map((left, col) => (
          <div key={`${site}-${col}`}>
            <div style={{ position: "absolute", left: left - 74, top: ROW_TOPS[row] - 33 }}>
              {col === 0 ? <SeriesPanel row={row} /> : <ScatterPanel row={row} col={col - 1} />}
            </div>
            <Title site={site} letter={LETTERS[col]} left={left} top={ROW_TOPS[row]} />
          </div>
        ))
      )}

      {/* shared legend */}
      <div style={{ position: "absolute", left: 387, top: 1601, width: 65, height: 0, borderTop: `1.5px solid ${GRAY}` }} />
      <div style={{ position: "absolute", left: 460, top: 1590, fontSize: 20, lineHeight: "22px", color: "#000" }}>
        In-situ LST
      </div>
      <div style={{ position: "absolute", left: 568, top: 1601, width: 67, height: 0, borderTop: `1.5px solid ${RED}` }} />
      <div style={{ position: "absolute", left: 641, top: 1590, fontSize: 20, lineHeight: "22px", color: "#000" }}>
        MODIS LST
      </div>
    </div>
  );
}
